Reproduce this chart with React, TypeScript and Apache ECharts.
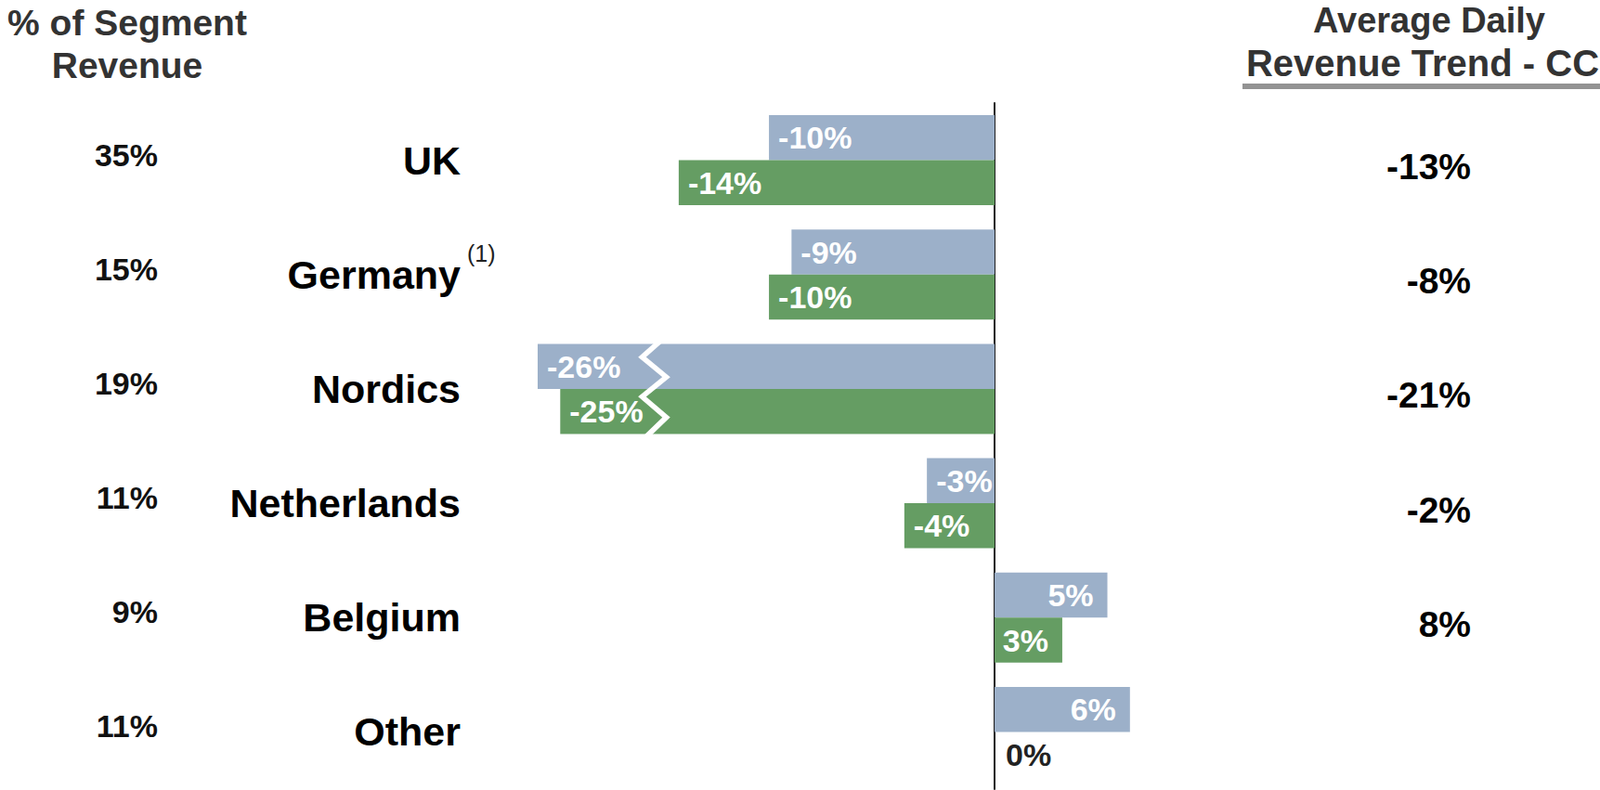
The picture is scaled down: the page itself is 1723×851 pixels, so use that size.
import React, { useEffect, useRef } from 'react';
import * as echarts from 'echarts';

const regions = ['UK', 'Germany', 'Nordics', 'Netherlands', 'Belgium', 'Other'];
const segmentShare = [35, 15, 19, 11, 9, 11];
const seriesBlue = [-10, -9, -26, -3, 5, 6];
const seriesGreen = [-14, -10, -25, -4, 3, 0];
const adrTrendCC: (number | null)[] = [-13, -8, -21, -2, 8, null];
const footnoteRegion = 'Germany';
const footnoteMark = '(1)';

const FONT = '"Liberation Sans", Arial, Helvetica, sans-serif';
const BLUE = '#9cb0c9';
const GREEN = '#659d63';

const GRID_LEFT = 579;
const GRID_RIGHT = 409;

function barData(vals: number[]) {
  return vals.map((v) => ({
    value: v,
    label:
      v > 0
        ? { position: 'insideRight', distance: 15 }
        : v < 0
        ? { position: 'insideLeft', distance: 10 }
        : { position: 'right', distance: 12, color: '#222' },
  }));
}

export default function App() {
  const ref = useRef<HTMLDivElement>(null);
  useEffect(() => {
    if (!ref.current) return;
    const chart = echarts.init(ref.current, undefined, { renderer: 'svg' });
    const labelBase = {
      show: true,
      color: '#ffffff',
      fontFamily: FONT,
      fontWeight: 'bold',
      fontSize: 34,
      formatter: (p: any) => `${p.value}%`,
    };
    chart.setOption({
      animation: false,
      textStyle: { fontFamily: FONT },
      grid: { left: GRID_LEFT, right: GRID_RIGHT, top: 111, bottom: 1, containLabel: false, outerBoundsMode: 'none' },
      xAxis: {
        type: 'value',
        min: -26,
        max: 10,
        axisLine: { show: false },
        axisTick: { show: false },
        axisLabel: { show: false },
        splitLine: { show: false },
        breaks: [{ start: -20.93, end: -15.0, gap: '0.6%' }],
        breakArea: {
          show: true,
          expandOnClick: false,
          zigzagAmplitude: 13,
          zigzagMinSpan: 20,
          zigzagMaxSpan: 26,
          zigzagZ: 100,
          itemStyle: { color: '#ffffff', borderColor: '#ffffff', borderWidth: 3, borderType: 'solid', opacity: 1 },
        },
      },
      yAxis: [
        {
          type: 'category',
          data: regions,
          inverse: true,
          axisLine: { show: true, onZero: true, lineStyle: { color: '#1a1a1a', width: 2 } },
          axisTick: { show: false },
          axisLabel: { show: false },
        },
        {
          type: 'category',
          data: regions,
          inverse: true,
          position: 'left',
          axisLine: { show: false, onZero: false },
          axisTick: { show: false },
          axisLabel: {
            margin: 83,
            color: '#000',
            fontFamily: FONT,
            fontWeight: 'bold',
            fontSize: 43,
          },
        },
        {
          type: 'category',
          data: regions,
          inverse: true,
          position: 'left',
          axisLine: { show: false, onZero: false },
          axisTick: { show: false },
          axisLabel: {
            margin: 409,
            formatter: (_v: string, i: number) => `{v|${segmentShare[i]}%}`,
            rich: {
              v: {
                color: '#111',
                fontFamily: FONT,
                fontWeight: 'bold',
                fontSize: 34,
                padding: [0, 0, 12, 0],
              },
            },
          },
        },
        {
          type: 'category',
          data: regions,
          inverse: true,
          position: 'right',
          axisLine: { show: false, onZero: false },
          axisTick: { show: false },
          axisLabel: {
            margin: 270,
            align: 'right',
            formatter: (_v: string, i: number) => (adrTrendCC[i] == null ? '' : `{v|${adrTrendCC[i]}%}`),
            rich: {
              v: {
                color: '#000',
                fontFamily: FONT,
                fontWeight: 'bold',
                fontSize: 39,
                padding: [14, 0, 0, 0],
              },
            },
          },
        },
      ],
      series: [
        {
          name: 'Series A',
          type: 'bar',
          yAxisIndex: 0,
          data: barData(seriesBlue),
          barWidth: 48.5,
          barGap: '0%',
          itemStyle: { color: BLUE },
          label: labelBase,
        },
        {
          name: 'Series B',
          type: 'bar',
          yAxisIndex: 0,
          data: barData(seriesGreen),
          barWidth: 48.5,
          barGap: '0%',
          itemStyle: { color: GREEN },
          label: labelBase,
        },
      ],
    });
    const gy = chart.convertToPixel({ yAxisIndex: 0 }, footnoteRegion) as number;
    chart.setOption({
      graphic: [
        {
          type: 'text',
          x: 137,
          y: 1,
          style: {
            text: '% of Segment\nRevenue',
            fill: '#333',
            font: `bold 39px ${FONT}`,
            lineHeight: 46,
            align: 'center',
            verticalAlign: 'top',
          },
        },
        {
          type: 'text',
          x: 1539,
          y: -1,
          style: {
            text: 'Average Daily',
            fill: '#333',
            font: `bold 38px ${FONT}`,
            lineHeight: 46,
            align: 'center',
            verticalAlign: 'top',
          },
        },
        {
          type: 'text',
          x: 1532,
          y: 45,
          style: {
            text: 'Revenue Trend - CC',
            fill: '#333',
            font: `bold 40px ${FONT}`,
            lineHeight: 46,
            align: 'center',
            verticalAlign: 'top',
          },
        },
        {
          type: 'rect',
          shape: { x: 1338, y: 90, width: 385, height: 6 },
          style: { fill: '#939393' },
        },
        {
          type: 'text',
          x: GRID_LEFT - 76,
          y: gy - 35,
          style: {
            text: footnoteMark,
            fill: '#222',
            font: `25px ${FONT}`,
            align: 'left',
            verticalAlign: 'top',
          },
        },
      ],
    });
    return () => chart.dispose();
  }, []);
  return <div ref={ref} style={{ position: 'fixed', left: 0, top: 0, width: 1723, height: 851, background: '#fff' }} />;
}
